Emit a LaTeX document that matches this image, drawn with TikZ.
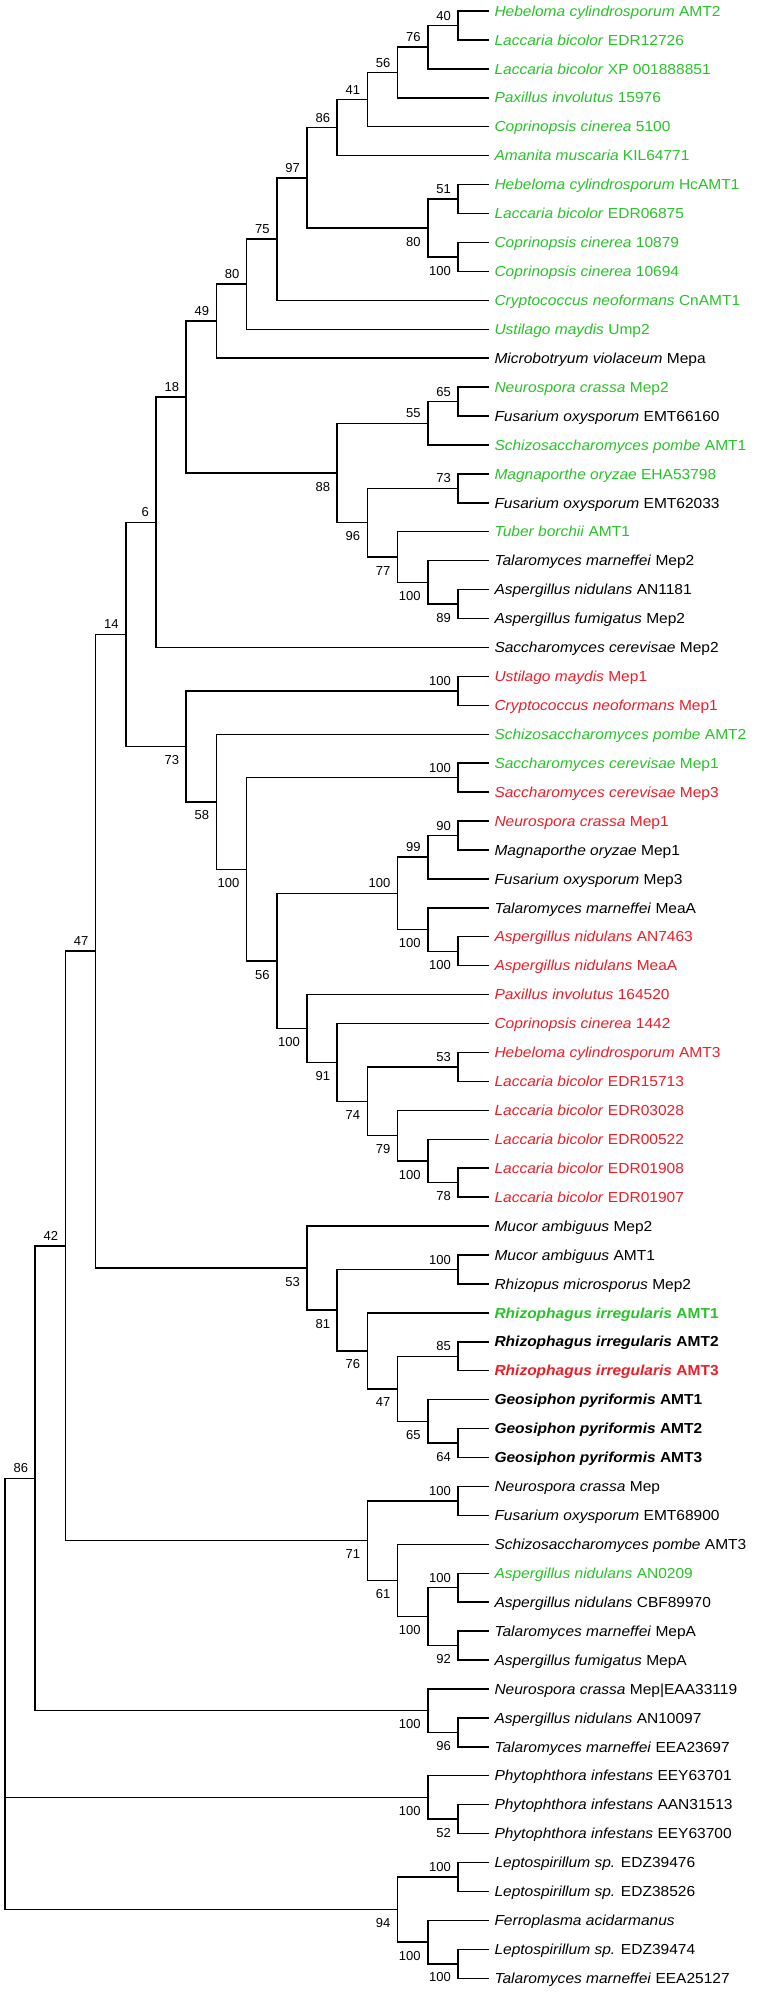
\documentclass[tikz,border=0pt]{standalone}
\usepackage{fontspec}
\setmainfont{Liberation Sans}
\newfontfamily\leaffont[FakeStretch=1.07]{Liberation Sans}
\usetikzlibrary{calc}
\definecolor{tgreen}{RGB}{40,195,40}
\definecolor{tred}{RGB}{235,30,40}
\newcommand\inode[6]{%
  \coordinate (#1m) at ($(#3)!0.5!(#4)$);
  \coordinate (#1) at (X#2 |- #1m);
  \draw[branch] (#1) |- (#3);
  \draw[branch] (#1) |- (#4);
  \node[bs#6] (#1lab) at (#1) {#5};
}
\newcommand\leaf[3]{%
  \coordinate (t#1) at (489,{11+(#1-1)*28.93});
  \node[leaflab,text=#2] (L#1) at ($(t#1)+(5.3,5.2)$) {#3};
}
\begin{document}
\begin{tikzpicture}[x=1pt,y=-1pt,
  branch/.style={line width=1.45pt,black},
  leaflab/.style={anchor=base west,inner sep=0pt,font=\leaffont\fontsize{14.5}{14.5}\selectfont},
  bsup/.style={anchor=base east,inner sep=0pt,xshift=-7pt,yshift=5.4pt,font=\fontsize{13}{13}\selectfont},
  bsdn/.style={anchor=base east,inner sep=0pt,xshift=-7pt,yshift=-18.1pt,font=\fontsize{13}{13}\selectfont}]
\fill[white] (0,0) rectangle (756,1994);
\useasboundingbox (0,0) rectangle (756,1994);
\foreach \k in {0,...,16} \coordinate (X\k) at ({5+30.2*\k},0);
% leaves
\leaf{1}{tgreen}{\textit{Hebeloma cylindrosporum} AMT2}
\leaf{2}{tgreen}{\textit{Laccaria bicolor} EDR12726}
\leaf{3}{tgreen}{\textit{Laccaria bicolor} XP 001888851}
\leaf{4}{tgreen}{\textit{Paxillus involutus} 15976}
\leaf{5}{tgreen}{\textit{Coprinopsis cinerea} 5100}
\leaf{6}{tgreen}{\textit{Amanita muscaria} KIL64771}
\leaf{7}{tgreen}{\textit{Hebeloma cylindrosporum} HcAMT1}
\leaf{8}{tgreen}{\textit{Laccaria bicolor} EDR06875}
\leaf{9}{tgreen}{\textit{Coprinopsis cinerea} 10879}
\leaf{10}{tgreen}{\textit{Coprinopsis cinerea} 10694}
\leaf{11}{tgreen}{\textit{Cryptococcus neoformans} CnAMT1}
\leaf{12}{tgreen}{\textit{Ustilago maydis} Ump2}
\leaf{13}{black}{\textit{Microbotryum violaceum} Mepa}
\leaf{14}{tgreen}{\textit{Neurospora crassa} Mep2}
\leaf{15}{black}{\textit{Fusarium oxysporum} EMT66160}
\leaf{16}{tgreen}{\textit{Schizosaccharomyces pombe} AMT1}
\leaf{17}{tgreen}{\textit{Magnaporthe oryzae} EHA53798}
\leaf{18}{black}{\textit{Fusarium oxysporum} EMT62033}
\leaf{19}{tgreen}{\textit{Tuber borchii} AMT1}
\leaf{20}{black}{\textit{Talaromyces marneffei} Mep2}
\leaf{21}{black}{\textit{Aspergillus nidulans} AN1181}
\leaf{22}{black}{\textit{Aspergillus fumigatus} Mep2}
\leaf{23}{black}{\textit{Saccharomyces cerevisae} Mep2}
\leaf{24}{tred}{\textit{Ustilago maydis} Mep1}
\leaf{25}{tred}{\textit{Cryptococcus neoformans} Mep1}
\leaf{26}{tgreen}{\textit{Schizosaccharomyces pombe} AMT2}
\leaf{27}{tgreen}{\textit{Saccharomyces cerevisae} Mep1}
\leaf{28}{tred}{\textit{Saccharomyces cerevisae} Mep3}
\leaf{29}{tred}{\textit{Neurospora crassa} Mep1}
\leaf{30}{black}{\textit{Magnaporthe oryzae} Mep1}
\leaf{31}{black}{\textit{Fusarium oxysporum} Mep3}
\leaf{32}{black}{\textit{Talaromyces marneffei} MeaA}
\leaf{33}{tred}{\textit{Aspergillus nidulans} AN7463}
\leaf{34}{tred}{\textit{Aspergillus nidulans} MeaA}
\leaf{35}{tred}{\textit{Paxillus involutus} 164520}
\leaf{36}{tred}{\textit{Coprinopsis cinerea} 1442}
\leaf{37}{tred}{\textit{Hebeloma cylindrosporum} AMT3}
\leaf{38}{tred}{\textit{Laccaria bicolor} EDR15713}
\leaf{39}{tred}{\textit{Laccaria bicolor} EDR03028}
\leaf{40}{tred}{\textit{Laccaria bicolor} EDR00522}
\leaf{41}{tred}{\textit{Laccaria bicolor} EDR01908}
\leaf{42}{tred}{\textit{Laccaria bicolor} EDR01907}
\leaf{43}{black}{\textit{Mucor ambiguus} Mep2}
\leaf{44}{black}{\textit{Mucor ambiguus} AMT1}
\leaf{45}{black}{\textit{Rhizopus microsporus} Mep2}
\leaf{46}{tgreen}{\bfseries\textit{Rhizophagus irregularis} AMT1}
\leaf{47}{black}{\bfseries\textit{Rhizophagus irregularis} AMT2}
\leaf{48}{tred}{\bfseries\textit{Rhizophagus irregularis} AMT3}
\leaf{49}{black}{\bfseries\textit{Geosiphon pyriformis} AMT1}
\leaf{50}{black}{\bfseries\textit{Geosiphon pyriformis} AMT2}
\leaf{51}{black}{\bfseries\textit{Geosiphon pyriformis} AMT3}
\leaf{52}{black}{\textit{Neurospora crassa} Mep}
\leaf{53}{black}{\textit{Fusarium oxysporum} EMT68900}
\leaf{54}{black}{\textit{Schizosaccharomyces pombe} AMT3}
\leaf{55}{tgreen}{\textit{Aspergillus nidulans} AN0209}
\leaf{56}{black}{\textit{Aspergillus nidulans} CBF89970}
\leaf{57}{black}{\textit{Talaromyces marneffei} MepA}
\leaf{58}{black}{\textit{Aspergillus fumigatus} MepA}
\leaf{59}{black}{\textit{Neurospora crassa} Mep|EAA33119}
\leaf{60}{black}{\textit{Aspergillus nidulans} AN10097}
\leaf{61}{black}{\textit{Talaromyces marneffei} EEA23697}
\leaf{62}{black}{\textit{Phytophthora infestans} EEY63701}
\leaf{63}{black}{\textit{Phytophthora infestans} AAN31513}
\leaf{64}{black}{\textit{Phytophthora infestans} EEY63700}
\leaf{65}{black}{\textit{Leptospirillum sp.} EDZ39476}
\leaf{66}{black}{\textit{Leptospirillum sp.} EDZ38526}
\leaf{67}{black}{\textit{Ferroplasma acidarmanus}}
\leaf{68}{black}{\textit{Leptospirillum sp.} EDZ39474}
\leaf{69}{black}{\textit{Talaromyces marneffei} EEA25127}
% internal nodes
\inode{n40}{15}{t1}{t2}{40}{up}
\inode{n76a}{14}{n40}{t3}{76}{up}
\inode{n56a}{13}{n76a}{t4}{56}{up}
\inode{n41}{12}{n56a}{t5}{41}{up}
\inode{n86a}{11}{n41}{t6}{86}{up}
\inode{n51}{15}{t7}{t8}{51}{up}
\inode{n100a}{15}{t9}{t10}{100}{dn}
\inode{n80a}{14}{n51}{n100a}{80}{dn}
\inode{n97}{10}{n86a}{n80a}{97}{up}
\inode{n75}{9}{n97}{t11}{75}{up}
\inode{n80b}{8}{n75}{t12}{80}{up}
\inode{n49}{7}{n80b}{t13}{49}{up}
\inode{n65}{15}{t14}{t15}{65}{up}
\inode{n55}{14}{n65}{t16}{55}{up}
\inode{n73a}{15}{t17}{t18}{73}{up}
\inode{n89}{15}{t21}{t22}{89}{dn}
\inode{n100b}{14}{t20}{n89}{100}{dn}
\inode{n77}{13}{t19}{n100b}{77}{dn}
\inode{n96}{12}{n73a}{n77}{96}{dn}
\inode{n88}{11}{n55}{n96}{88}{dn}
\inode{n18}{6}{n49}{n88}{18}{up}
\inode{n6}{5}{n18}{t23}{6}{up}
\inode{n100c}{15}{t24}{t25}{100}{up}
\inode{n100e}{15}{t27}{t28}{100}{up}
\inode{n90}{15}{t29}{t30}{90}{up}
\inode{n99}{14}{n90}{t31}{99}{up}
\inode{n100h}{15}{t33}{t34}{100}{dn}
\inode{n100g}{14}{t32}{n100h}{100}{dn}
\inode{n100f}{13}{n99}{n100g}{100}{up}
\inode{n53a}{15}{t37}{t38}{53}{up}
\inode{n78}{15}{t41}{t42}{78}{dn}
\inode{n100j}{14}{t40}{n78}{100}{dn}
\inode{n79}{13}{t39}{n100j}{79}{dn}
\inode{n74}{12}{n53a}{n79}{74}{dn}
\inode{n91}{11}{t36}{n74}{91}{dn}
\inode{n100i}{10}{t35}{n91}{100}{dn}
\inode{n56b}{9}{n100f}{n100i}{56}{dn}
\inode{n100d}{8}{n100e}{n56b}{100}{dn}
\inode{n58}{7}{t26}{n100d}{58}{dn}
\inode{n73b}{6}{n100c}{n58}{73}{dn}
\inode{n14}{4}{n6}{n73b}{14}{up}
\inode{n100k}{15}{t44}{t45}{100}{up}
\inode{n85}{15}{t47}{t48}{85}{up}
\inode{n64}{15}{t50}{t51}{64}{dn}
\inode{n65b}{14}{t49}{n64}{65}{dn}
\inode{n47b}{13}{n85}{n65b}{47}{dn}
\inode{n76b}{12}{t46}{n47b}{76}{dn}
\inode{n81}{11}{n100k}{n76b}{81}{dn}
\inode{n53b}{10}{t43}{n81}{53}{dn}
\inode{n47}{3}{n14}{n53b}{47}{up}
\inode{n100l}{15}{t52}{t53}{100}{up}
\inode{n100m}{15}{t55}{t56}{100}{up}
\inode{n92}{15}{t57}{t58}{92}{dn}
\inode{n100n}{14}{n100m}{n92}{100}{dn}
\inode{n61}{13}{t54}{n100n}{61}{dn}
\inode{n71}{12}{n100l}{n61}{71}{dn}
\inode{n42}{2}{n47}{n71}{42}{up}
\inode{n96b}{15}{t60}{t61}{96}{dn}
\inode{n100o}{14}{t59}{n96b}{100}{dn}
\inode{n86}{1}{n42}{n100o}{86}{up}
\inode{n52}{15}{t63}{t64}{52}{dn}
\inode{n100p}{14}{t62}{n52}{100}{dn}
\inode{n100q}{15}{t65}{t66}{100}{up}
\inode{n100s}{15}{t68}{t69}{100}{dn}
\inode{n100r}{14}{t67}{n100s}{100}{dn}
\inode{n94}{13}{n100q}{n100r}{94}{dn}
% root
\coordinate (rootm) at ($(n86)!0.5!(n94)$);
\coordinate (root) at (X0 |- rootm);
\draw[branch] (root) |- (n86);
\draw[branch] (root) |- (n100p);
\draw[branch] (root) |- (n94);
\end{tikzpicture}
\end{document}
